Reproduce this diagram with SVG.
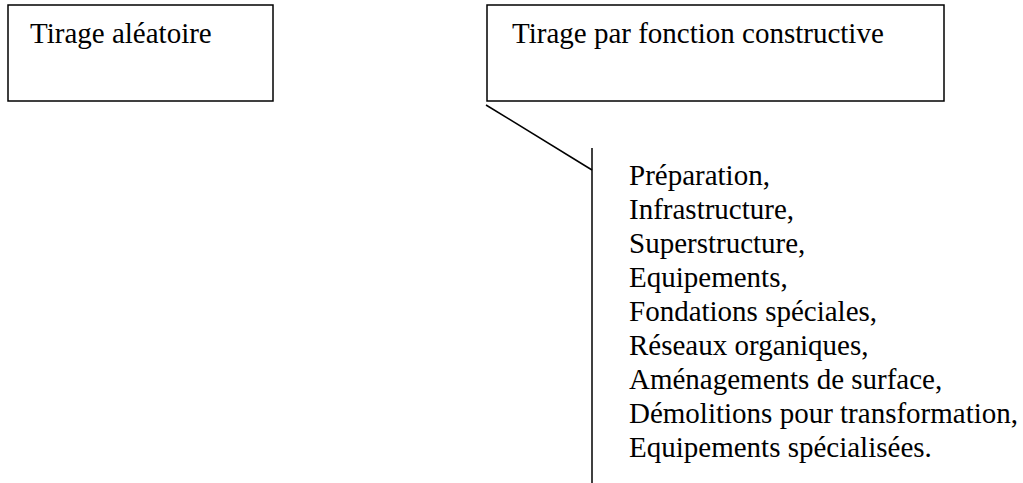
<svg xmlns="http://www.w3.org/2000/svg" width="1023" height="483" viewBox="0 0 1023 483">
<style>
.box{fill:#fff;stroke:#000;stroke-width:1.5}
.ln{stroke:#000;stroke-width:1.5;fill:none}
text{font-family:"Liberation Serif","Times New Roman",serif;font-size:29px;fill:#000}
</style>
<rect width="1023" height="483" fill="#fff"/>
<g id="node-aleatoire">
<rect class="box" x="8" y="5" width="265" height="96"/>
<text x="30" y="43">Tirage aléatoire</text>
</g>
<g id="node-constructive">
<rect class="box" x="487" y="5" width="457" height="96"/>
<text x="512" y="43">Tirage par fonction constructive</text>
</g>
<g id="connectors">
<line class="ln" x1="486" y1="105" x2="592" y2="170"/>
<line class="ln" x1="592" y1="148" x2="592" y2="483"/>
</g>
<g id="node-list">
<text x="629" y="185">Préparation,</text>
<text x="629" y="219">Infrastructure,</text>
<text x="629" y="253">Superstructure,</text>
<text x="629" y="287">Equipements,</text>
<text x="629" y="321">Fondations spéciales,</text>
<text x="629" y="355">Réseaux organiques,</text>
<text x="629" y="389">Aménagements de surface,</text>
<text x="629" y="423">Démolitions pour transformation,</text>
<text x="629" y="457">Equipements spécialisées.</text>
</g>
</svg>
